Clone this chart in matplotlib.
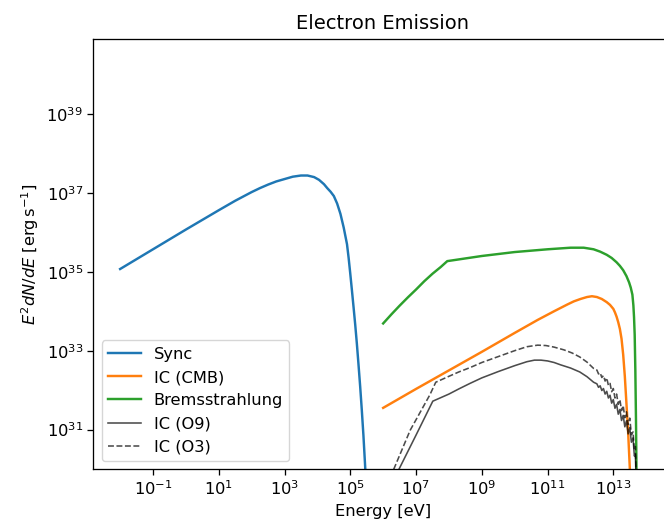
import numpy as np
import matplotlib
matplotlib.use("Agg")
import matplotlib.pyplot as plt
from matplotlib.ticker import NullLocator

# === values (log10 of energy, log10 of E^2 dN/dE) ===
sync_logE = [-2.0, -1.0, 0.0, 1.0, 1.5, 2.0, 2.25, 2.5, 2.75, 3.0, 3.25, 3.5, 3.7, 3.9,
             4.05, 4.2, 4.3, 4.4, 4.5, 4.6, 4.7, 4.8, 4.9, 4.95, 5.0, 5.05, 5.1, 5.15,
             5.2, 5.25, 5.3, 5.35, 5.4, 5.45, 5.5]
sync_logF = [35.07, 35.57, 36.07, 36.56, 36.8, 37.02, 37.12, 37.21, 37.29, 37.35, 37.41, 37.44, 37.44, 37.4,
             37.33, 37.22, 37.12, 37.03, 36.92, 36.73, 36.47, 36.12, 35.7, 35.35, 34.95, 34.53, 34.1, 33.66,
             33.18, 32.65, 32.1, 31.5, 30.85, 30.1, 29.3]

cmb_logE = [6.0, 7.0, 8.0, 9.0, 10.0, 10.7, 11.2, 11.6, 11.8, 12.0, 12.2, 12.35, 12.5, 12.65,
            12.8, 12.9, 13.0, 13.05, 13.1, 13.15, 13.2, 13.25, 13.3, 13.35, 13.4, 13.45, 13.5, 13.55]
cmb_logF = [31.55, 32.03, 32.5, 32.97, 33.45, 33.78, 34.0, 34.17, 34.25, 34.31, 34.36, 34.38, 34.36, 34.31,
            34.23, 34.16, 34.06, 33.97, 33.86, 33.72, 33.55, 33.3, 32.9, 32.35, 31.65, 30.95, 30.05, 29.0]

brems_logE = [6.0, 6.25, 6.5, 6.75, 7.0, 7.25, 7.5, 7.75, 7.95, 9.0, 10.0, 11.0, 11.7, 12.1,
              12.4, 12.6, 12.8, 12.95, 13.1, 13.2, 13.3, 13.4, 13.48, 13.53, 13.58, 13.61,
              13.63, 13.65, 13.67, 13.69, 13.71]
brems_logF = [33.69, 33.92, 34.14, 34.35, 34.55, 34.76, 34.95, 35.12, 35.27, 35.4, 35.5, 35.57, 35.61, 35.61,
              35.57, 35.51, 35.43, 35.35, 35.24, 35.15, 35.04, 34.89, 34.73, 34.6, 34.42, 34.15,
              33.85, 33.4, 32.5, 31.2, 29.5]

o9_logE = [6.2, 6.49, 7.0, 7.51, 8.0, 8.3, 8.64, 9.0, 9.5, 10.0, 10.37, 10.6, 10.8, 11.0,
           11.2, 11.4, 11.7, 11.98, 12.2, 12.4,
           12.50, 12.55, 12.60, 12.65, 12.70, 12.75, 12.80, 12.85, 12.90, 12.95, 13.00,
           13.05, 13.10, 13.15, 13.20, 13.25, 13.30, 13.35, 13.40, 13.45, 13.50, 13.55,
           13.60, 13.64, 13.67, 13.69, 13.71]
o9_logF = [29.5, 30.01, 30.86, 31.72, 31.9, 32.03, 32.17, 32.31, 32.47, 32.62, 32.72, 32.76, 32.76, 32.74,
           32.7, 32.64, 32.56, 32.46, 32.34, 32.2,
           32.16, 32.07, 32.11, 31.99, 32.04, 31.90, 31.97, 31.80, 31.87, 31.67, 31.76,
           31.54, 31.64, 31.39, 31.51, 31.23, 31.36, 31.07, 31.22, 30.89, 31.05, 30.68,
           30.79, 30.33, 30.37, 29.85, 29.3]

o3_logE = [6.1, 6.33, 6.82, 7.2, 7.42, 7.6, 8.0, 8.3, 8.64, 9.0, 9.5, 10.0, 10.37, 10.7,
           10.95, 11.2, 11.5, 11.75, 11.98, 12.2, 12.4,
           12.50, 12.55, 12.60, 12.65, 12.70, 12.75, 12.80, 12.85, 12.90, 12.95, 13.00,
           13.05, 13.10, 13.15, 13.20, 13.25, 13.30, 13.35, 13.40, 13.45, 13.50, 13.55,
           13.60, 13.64, 13.67, 13.69, 13.71]
o3_logF = [29.6, 30.01, 30.98, 31.55, 31.88, 32.2, 32.35, 32.46, 32.57, 32.7, 32.85, 33.0, 33.1, 33.14,
           33.13, 33.09, 33.02, 32.94, 32.84, 32.71, 32.55,
           32.51, 32.41, 32.44, 32.32, 32.37, 32.23, 32.31, 32.12, 32.17, 31.96, 32.04,
           31.80, 31.90, 31.64, 31.76, 31.48, 31.61, 31.30, 31.45, 31.13, 31.29, 30.87,
           30.94, 30.48, 30.57, 30.0, 29.3]

x_ticks = [1e-1, 1e1, 1e3, 1e5, 1e7, 1e9, 1e11, 1e13]
y_ticks = [1e31, 1e33, 1e35, 1e37, 1e39]


def lin(v):
    return 10.0 ** np.array(v)


# reference looks rendered ~1.17x larger than matplotlib defaults
s = 1.17
plt.rcParams.update({
    "font.size": 10 * s,
    "lines.linewidth": 1.5 * s,
    "axes.linewidth": 0.8 * s,
    "xtick.major.size": 3.5 * s,
    "ytick.major.size": 3.5 * s,
    "xtick.major.width": 0.8 * s,
    "ytick.major.width": 0.8 * s,
    "axes.titlepad": 6 * s,
})

# === plot ===
fig = plt.figure(figsize=(6.64, 5.28), dpi=100)
ax = fig.add_axes([0.1408, 0.1117, 0.872, 0.8144])

ax.plot(lin(sync_logE), lin(sync_logF), label="Sync")
ax.plot(lin(cmb_logE), lin(cmb_logF), label="IC (CMB)")
ax.plot(lin(brems_logE), lin(brems_logF), label="Bremsstrahlung")
ax.plot(lin(o9_logE), lin(o9_logF), color="k", alpha=0.7, lw=1.15, label="IC (O9)")
ax.plot(lin(o3_logE), lin(o3_logF), color="k", alpha=0.7, lw=1.15, ls="--", label="IC (O3)")

ax.set_xscale("log")
ax.set_yscale("log")
ax.set_xlim(10 ** -2.81, 10 ** 14.8)
ax.set_ylim(1e30, 10 ** 40.9)
ax.set_xticks(x_ticks)
ax.set_yticks(y_ticks)
ax.xaxis.set_minor_locator(NullLocator())
ax.yaxis.set_minor_locator(NullLocator())

ax.set_title("Electron Emission")
ax.set_xlabel("Energy [eV]")
ax.set_ylabel(r"$E^2dN/dE$ [$\mathrm{erg\,s^{-1}}$]")
ax.legend(loc="lower left")

fig.savefig("out.png", dpi=100)
